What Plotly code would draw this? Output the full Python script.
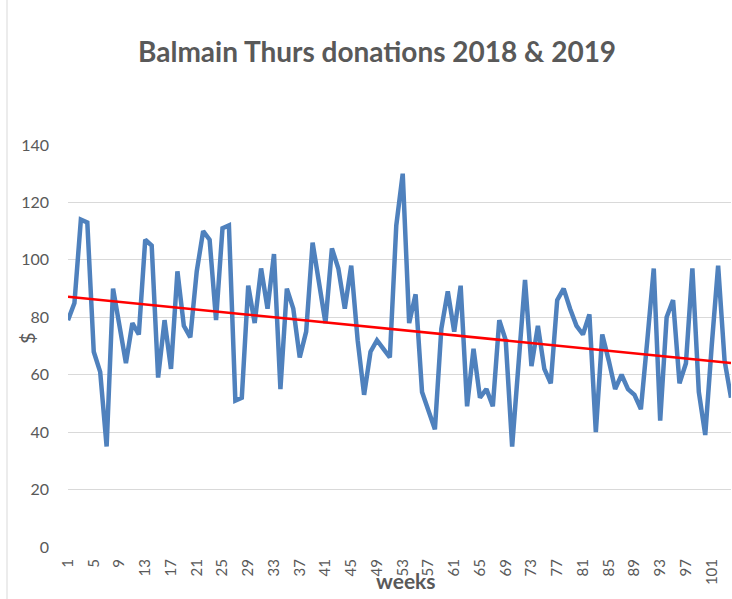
import numpy as np
import plotly.graph_objects as go

weeks = list(range(1, 105))
donations = [
    79, 85, 114, 113, 68, 61, 35, 90, 77, 64,
    78, 74, 107, 105, 59, 79, 62, 96, 77, 73,
    96, 110, 107, 79, 111, 112, 51, 52, 91, 78,
    97, 83, 102, 55, 90, 83, 66, 75, 106, 92,
    78, 104, 97, 83, 98, 72, 53, 68, 72, 69,
    66, 112, 130, 78, 88, 54, 48, 41, 76, 89,
    75, 91, 49, 69, 52, 55, 49, 79, 72, 35,
    64, 93, 63, 77, 62, 57, 86, 90, 83, 77,
    74, 81, 40, 74, 65, 55, 60, 55, 53, 48,
    72, 97, 44, 80, 86, 57, 64, 97, 54, 39,
    70, 98, 65, 52,
]
x_ticks = list(range(1, 102, 4))
y_ticks = [0, 20, 40, 60, 80, 100, 120, 140]

W, H = 732, 599
L, R, T, B = 68, 1, 145, 52
PW, PH = W - L - R, H - T - B


def px(x):
    return (x - L) / PW


def py(y):
    return (H - B - y) / PH


slope, intercept = np.polyfit(weeks, donations, 1)
trend_x = [weeks[0], weeks[-1]]
trend_y = [intercept + slope * v for v in trend_x]

fig = go.Figure()
fig.add_trace(go.Scatter(x=weeks, y=donations, mode="lines",
                         line=dict(color="#4F81BD", width=4.5), showlegend=False))
fig.add_trace(go.Scatter(x=trend_x, y=trend_y, mode="lines",
                         line=dict(color="#FF0000", width=2.5), showlegend=False))

grey = "#595959"
fig.update_layout(
    width=W, height=H,
    margin=dict(l=L, r=R, t=T, b=B, autoexpand=False),
    paper_bgcolor="white", plot_bgcolor="white",
    font=dict(family="Lato", color=grey),
    xaxis=dict(range=[1, 104], tickvals=x_ticks, ticktext=[str(v) for v in x_ticks],
               tickangle=-90, tickfont=dict(size=15, color=grey),
               showgrid=False, zeroline=False, showline=False,
               ticks="", ticklabelstandoff=8),
    yaxis=dict(range=[0, 140], tickvals=y_ticks, tickfont=dict(size=16, color=grey),
               showgrid=True, gridcolor="#D9D9D9", gridwidth=1, zeroline=False,
               showline=False, ticks="", ticklabelstandoff=18),
    annotations=[
        dict(text="<b>Balmain Thurs donations 2018 &amp; 2019</b>", x=px(377), y=py(51),
             xref="paper", yref="paper", showarrow=False, xanchor="center", yanchor="middle",
             font=dict(size=28, color=grey, family="Lato")),
        dict(text="<b>weeks</b>", x=px(406), y=py(580), xref="paper", yref="paper",
             showarrow=False, xanchor="center", yanchor="middle",
             font=dict(size=21, color=grey, family="Lato")),
        dict(text="$", x=px(27), y=py(338), xref="paper", yref="paper", textangle=-90,
             showarrow=False, xanchor="center", yanchor="middle",
             font=dict(size=20, color=grey, family="Lato")),
    ],
    shapes=[
        dict(type="line", xref="paper", yref="paper", x0=px(7), x1=px(7), y0=py(0), y1=py(599),
             line=dict(color="#D9D9D9", width=1)),
    ],
)

fig.write_html(
    "out.html",
    config={"displayModeBar": False},
    post_script="document.body.style.margin='0';document.body.style.overflow='hidden';",
)
